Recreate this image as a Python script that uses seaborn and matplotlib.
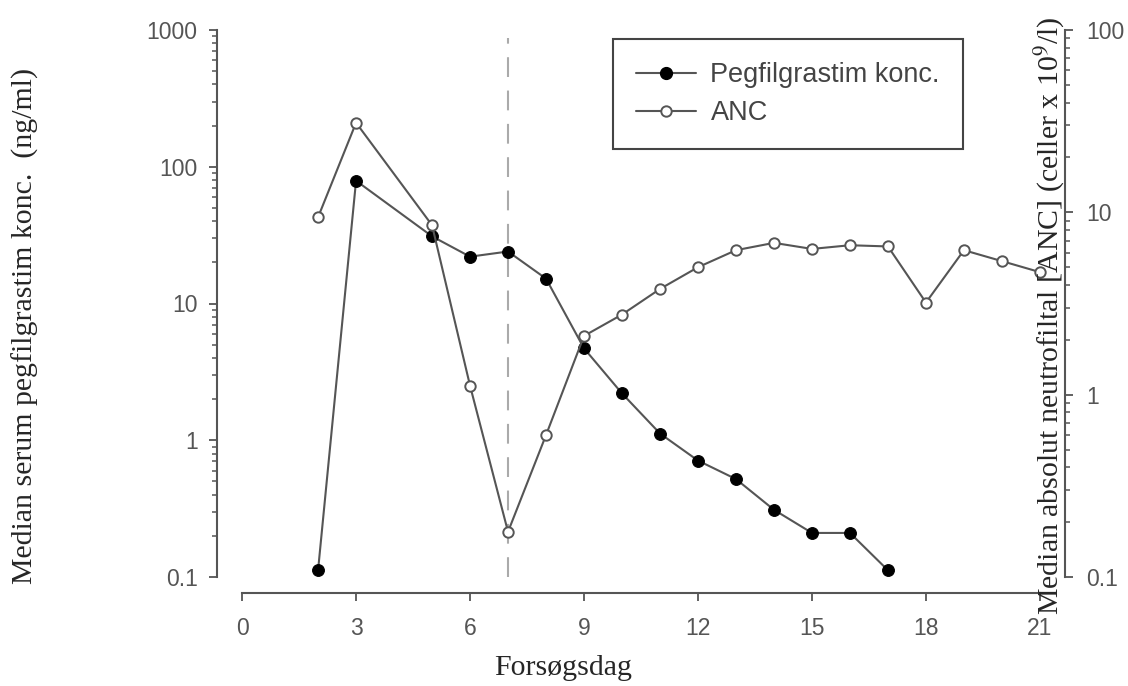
import numpy as np
import pandas as pd
import matplotlib
matplotlib.use('Agg')
from matplotlib import pyplot as plt
from matplotlib.ticker import NullFormatter, LogLocator
from matplotlib.lines import Line2D
import seaborn as sns

# data
peg_days = [2, 3, 5, 6, 7, 8, 9, 10, 11, 12, 13, 14, 15, 16, 17]
peg_conc = [0.112, 79, 31, 22, 24, 15.2, 4.7, 2.2, 1.12, 0.71, 0.52, 0.31, 0.21, 0.21, 0.112]

anc_days = [2, 3, 5, 6, 7, 8, 9, 10, 11, 12, 13, 14, 15, 16, 17, 18, 19, 20, 21]
anc_vals = [9.4, 31, 8.5, 1.12, 0.177, 0.6, 2.1, 2.75, 3.8, 5.0, 6.2, 6.8, 6.3, 6.6, 6.5, 3.2, 6.2, 5.4, 4.7]

x_ticks = [0, 3, 6, 9, 12, 15, 18, 21]
left_ticks = [0.1, 1, 10, 100, 1000]
left_labels = ['0.1', '1', '10', '100', '1000']
right_ticks = [0.1, 1, 10, 100]
right_labels = ['0.1', '1', '10', '100']

peg_df = pd.DataFrame({'dag': peg_days, 'konc': peg_conc})
anc_df = pd.DataFrame({'dag': anc_days, 'anc': anc_vals})

sns.set_style('ticks')
plt.rcParams['font.family'] = ['Liberation Sans', 'DejaVu Sans']
plt.rcParams['mathtext.fontset'] = 'stix'

W, H = 1128, 686
fig = plt.figure(figsize=(W / 100, H / 100), dpi=100)
ax = fig.add_axes([217 / W, 1 - 577 / H, (1065 - 217) / W, (577 - 30) / H])
ax2 = ax.twinx()

line_col = '#555555'
tick_col = '#555555'

# filled = pegfilgrastim (venstre akse), open = ANC (hoejre akse)
sns.lineplot(data=peg_df, x='dag', y='konc', ax=ax, color=line_col, linewidth=1.5,
             marker='o', markersize=8.5, markerfacecolor='black', markeredgecolor='black', zorder=3)
sns.lineplot(data=anc_df, x='dag', y='anc', ax=ax2, color=line_col, linewidth=1.5,
             marker='o', markersize=7.5, markerfacecolor='white', markeredgecolor=line_col,
             markeredgewidth=1.4, zorder=3)

ax.axvline(7, ymin=0, ymax=0.985, color='#aaaaaa', linewidth=1.5, dashes=(9.5, 6.5), zorder=1)

ax.set_yscale('log')
ax2.set_yscale('log')
ax.set_ylim(0.1, 1000)
ax2.set_ylim(0.1, 100)
ax.set_xlim(-0.66, 21.66)

ax.set_xticks(x_ticks)
ax.set_xticklabels([str(t) for t in x_ticks])
ax.set_yticks(left_ticks)
ax.set_yticklabels(left_labels)
ax2.set_yticks(right_ticks)
ax2.set_yticklabels(right_labels)
for a in (ax, ax2):
    a.yaxis.set_minor_locator(LogLocator(base=10, subs=np.arange(2, 10)))
    a.yaxis.set_minor_formatter(NullFormatter())
    a.set_xlabel('')
    a.set_ylabel('')
    a.grid(False)

for s in ['top', 'right']:
    ax.spines[s].set_visible(False)
for s in ['top', 'left', 'bottom']:
    ax2.spines[s].set_visible(False)
ax.spines['bottom'].set_position(('outward', 11.5))
ax.spines['bottom'].set_bounds(0, 21)
for sp in (ax.spines['left'], ax.spines['bottom'], ax2.spines['right']):
    sp.set_color(tick_col)
    sp.set_linewidth(1.5)

for a in (ax, ax2):
    a.tick_params(axis='both', which='major', direction='out', length=6, width=1.3,
                  color=tick_col, labelcolor=tick_col, labelsize=16.5, pad=8)
    a.tick_params(axis='y', which='minor', direction='out', length=3.5, width=1.1, color=tick_col)
ax.tick_params(axis='x', pad=11)
ax2.tick_params(axis='y', pad=9)

# legend
handles = [
    Line2D([], [], color=line_col, linewidth=1.5, marker='o', markersize=8.5,
           markerfacecolor='black', markeredgecolor='black'),
    Line2D([], [], color=line_col, linewidth=1.5, marker='o', markersize=7.5,
           markerfacecolor='white', markeredgecolor=line_col, markeredgewidth=1.4),
]
leg = ax2.legend(handles, ['Pegfilgrastim konc.', 'ANC'], loc='upper left',
                 bbox_to_anchor=(613 / W, 1 - 39 / H), bbox_transform=fig.transFigure,
                 fontsize=19.5, frameon=True, fancybox=False, framealpha=1,
                 borderaxespad=0, borderpad=0.85, handlelength=2.2, handletextpad=0.55,
                 labelspacing=0.45, labelcolor='#444444')
leg.get_frame().set_edgecolor('#444444')
leg.get_frame().set_linewidth(1.5)

# axis titles
serif = ['Liberation Serif', 'DejaVu Serif']
fig.text(563 / W, 1 - 668 / H, 'Forsøgsdag', ha='center', va='center',
         fontsize=21.5, family=serif)
fig.text(25 / W, 1 - 326 / H, 'Median serum pegfilgrastim konc.  (ng/ml)', ha='center',
         va='center', rotation=90, fontsize=21.5, family=serif)
fig.text(1050 / W, 1 - 316 / H, r'Median absolut neutrofiltal [ANC] (celler x 10$^{9}$/l)',
         ha='center', va='center', rotation=90, fontsize=21.5, family=serif)

fig.savefig('out.png', dpi=100)
